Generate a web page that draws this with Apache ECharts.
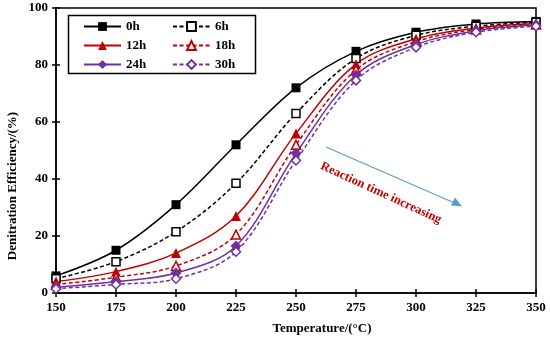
<!DOCTYPE html>
<html>
<head>
<meta charset="utf-8">
<script src="https://cdn.jsdelivr.net/npm/echarts@6/dist/echarts.min.js"></script>
<style>html,body{margin:0;padding:0;background:#fff}#c{width:550px;height:342px}</style>
</head>
<body>
<div id="c"></div>
<script>
var temperatures = [150, 175, 200, 225, 250, 275, 300, 325, 350];
var eff0h  = [6.0, 15.0, 31.0, 52.0, 72.0, 84.8, 91.5, 94.4, 95.3];
var eff6h  = [5.0, 11.0, 21.5, 38.5, 63.0, 82.3, 90.4, 93.6, 95.0];
var eff12h = [4.0, 7.5, 14.0, 27.0, 56.0, 80.3, 89.2, 93.0, 94.6];
var eff18h = [3.0, 5.5, 9.5, 20.5, 52.0, 78.3, 88.2, 92.5, 94.2];
var eff24h = [2.0, 4.0, 7.0, 16.5, 49.0, 76.5, 87.2, 92.0, 94.0];
var eff30h = [1.5, 3.0, 5.0, 14.5, 46.5, 74.6, 86.2, 91.5, 93.6];
var seriesNames = ['0h', '6h', '12h', '18h', '24h', '30h'];
var yTicks = [0, 20, 40, 60, 80, 100];

var FONT = 'Liberation Serif';
var BLACK = '#000000', RED = '#C00000', PURPLE = '#7030A0';

function pairs(vals) { return temperatures.map(function (t, i) { return [t, vals[i]]; }); }

function mk(name, vals, color, symbol, filled, dashed, size) {
  return {
    name: name, type: 'line', smooth: 0.35, data: pairs(vals),
    symbol: symbol, symbolSize: size,
    showAllSymbol: true,
    lineStyle: { color: color, width: 1.5, type: dashed ? [4, 2.5] : 'solid' },
    itemStyle: { color: filled ? color : '#ffffff', borderColor: color, borderWidth: filled ? 0 : 1.5 },
    emphasis: { disabled: true },
    z: 3
  };
}

var chart = echarts.init(document.getElementById('c'), null, { renderer: 'canvas' });

function leg(name, left, top) {
  return {
    left: left, top: top, itemWidth: 37, itemHeight: 11, itemGap: 0, padding: 0,
    textStyle: { fontFamily: FONT, fontWeight: 'bold', fontSize: 13, color: BLACK },
    selectedMode: false, data: [name]
  };
}

var tickLabelStyle = { fontFamily: FONT, fontWeight: 'bold', fontSize: 13, color: BLACK };

chart.setOption({
  animation: false,
  backgroundColor: '#ffffff',
  grid: { left: 56, right: 14, top: 8, bottom: 49, show: true, borderColor: BLACK, borderWidth: 1.5, containLabel: false },
  legend: [
    leg(seriesNames[0], 83, 20), leg(seriesNames[1], 172, 20),
    leg(seriesNames[2], 83, 39), leg(seriesNames[3], 172, 39),
    leg(seriesNames[4], 83, 58), leg(seriesNames[5], 172, 58)
  ],
  xAxis: [{
    type: 'value', min: 150, max: 350, interval: 25,
    axisLine: { lineStyle: { color: BLACK, width: 1.5 } },
    axisTick: { show: true, length: 4, lineStyle: { color: BLACK, width: 1.5 } },
    axisLabel: Object.assign({ margin: 8 }, tickLabelStyle),
    splitLine: { show: false }
  }, {
    type: 'value', min: 150, max: 350, interval: 25, position: 'bottom',
    axisLine: { show: false },
    axisTick: { show: true, inside: true, length: 4, lineStyle: { color: BLACK, width: 1.5 } },
    axisLabel: { show: false }, splitLine: { show: false }
  }],
  yAxis: [{
    type: 'value', min: 0, max: 100, interval: 20,
    axisLine: { show: true, lineStyle: { color: BLACK, width: 1.5 } },
    axisTick: { show: true, length: 4, lineStyle: { color: BLACK, width: 1.5 } },
    axisLabel: Object.assign({ margin: 8, formatter: function (v) { return yTicks.indexOf(v) >= 0 ? String(v) : ''; } }, tickLabelStyle),
    splitLine: { show: false }
  }, {
    type: 'value', min: 0, max: 100, interval: 20, position: 'left',
    axisLine: { show: false },
    axisTick: { show: true, inside: true, length: 4, lineStyle: { color: BLACK, width: 1.5 } },
    axisLabel: { show: false }, splitLine: { show: false }
  }],
  series: [
    mk('0h', eff0h, BLACK, 'rect', true, false, 9),
    mk('6h', eff6h, BLACK, 'rect', false, true, 8),
    mk('12h', eff12h, RED, 'triangle', true, false, 10),
    mk('18h', eff18h, RED, 'triangle', false, true, 9),
    mk('24h', eff24h, PURPLE, 'diamond', true, false, 11),
    mk('30h', eff30h, PURPLE, 'diamond', false, true, 9)
  ],
  graphic: [
    { type: 'rect', shape: { x: 68.5, y: 15.5, width: 187, height: 58 }, style: { fill: 'none', stroke: BLACK, lineWidth: 1.5 }, z: 10 },
    { type: 'text', x: 13, y: 186, rotation: Math.PI / 2, style: { text: 'Denitration Efficiency/(%)', fontFamily: FONT, fontWeight: 'bold', fontSize: 13, fill: BLACK, align: 'center', verticalAlign: 'middle' } },
    { type: 'text', x: 322, y: 329, style: { text: 'Temperature/(°C)', fontFamily: FONT, fontWeight: 'bold', fontSize: 13, fill: BLACK, align: 'center', verticalAlign: 'middle' } },
    { type: 'line', shape: { x1: 326, y1: 147, x2: 458, y2: 204.5 }, style: { stroke: '#5B9BD5', lineWidth: 1.2 } },
    { type: 'polygon', shape: { points: [[462, 206.5], [451, 205.5], [455, 197.5]] }, style: { fill: '#5B9BD5' } },
    { type: 'text', x: 381, y: 193, rotation: -0.43, style: { text: 'Reaction time increasing', fontFamily: FONT, fontWeight: 'bold', fontSize: 12.5, fill: RED, align: 'center', verticalAlign: 'middle' } }
  ]
});
</script>
</body>
</html>
